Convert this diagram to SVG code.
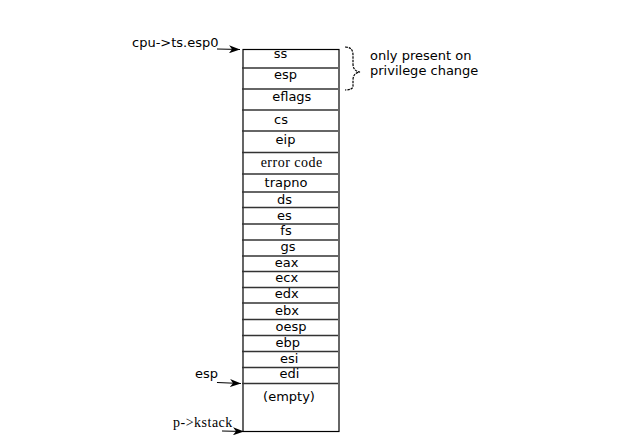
<svg xmlns="http://www.w3.org/2000/svg" width="630" height="435" viewBox="0 0 630 435">
<style>
.lbl{font-family:"DejaVu Sans",sans-serif;font-size:13px;fill:#000;text-anchor:middle}
.side{font-family:"DejaVu Sans",sans-serif;font-size:13px;fill:#000}
.serif{font-family:"Liberation Serif",serif;font-size:14px;letter-spacing:0.5px;fill:#000}
.sep{stroke:#333;stroke-width:1.3}
.arr{stroke:#000;stroke-width:1.2;fill:none}
</style>
<defs>
<marker id="ah" markerWidth="11" markerHeight="8" refX="11" refY="4" orient="auto" markerUnits="userSpaceOnUse">
<path d="M0,0 L11,4 L0,8 L3,4 Z" fill="#000"/>
</marker>
</defs>
<rect width="630" height="435" fill="#fff"/>
<g id="stack">
<rect x="243" y="49.5" width="96" height="382" fill="none" stroke="#000" stroke-width="1.2"/>
<g class="sep">
<line x1="242" y1="68" x2="338" y2="68"/>
<line x1="242" y1="89" x2="338" y2="89"/>
<line x1="242" y1="110" x2="338" y2="110"/>
<line x1="242" y1="131" x2="338" y2="131"/>
<line x1="242" y1="152.5" x2="338" y2="152.5"/>
<line x1="242" y1="174" x2="338" y2="174"/>
<line x1="242" y1="192" x2="338" y2="192"/>
<line x1="242" y1="207.5" x2="338" y2="207.5"/>
<line x1="242" y1="224" x2="338" y2="224"/>
<line x1="242" y1="240" x2="338" y2="240"/>
<line x1="242" y1="256" x2="338" y2="256"/>
<line x1="242" y1="271.5" x2="338" y2="271.5"/>
<line x1="242" y1="287.5" x2="338" y2="287.5"/>
<line x1="242" y1="303" x2="338" y2="303"/>
<line x1="242" y1="319.5" x2="338" y2="319.5"/>
<line x1="242" y1="335.5" x2="338" y2="335.5"/>
<line x1="242" y1="351.5" x2="338" y2="351.5"/>
<line x1="242" y1="367.5" x2="338" y2="367.5"/>
<line x1="242" y1="383.5" x2="338" y2="383.5"/>
</g>
</g>
<g id="cell-ss"><text class="lbl" x="280.5" y="57.5">ss</text></g>
<g id="cell-esp"><text class="lbl" x="285.5" y="78.5">esp</text></g>
<g id="cell-eflags"><text class="lbl" x="291.8" y="101">eflags</text></g>
<g id="cell-cs"><text class="lbl" x="281" y="124">cs</text></g>
<g id="cell-eip"><text class="lbl" x="285.5" y="143.5">eip</text></g>
<g id="cell-errorcode"><text class="serif" x="291.7" y="166.5" text-anchor="middle">error code</text></g>
<g id="cell-trapno"><text class="lbl" x="286" y="186.7">trapno</text></g>
<g id="cell-ds"><text class="lbl" x="284.5" y="204">ds</text></g>
<g id="cell-es"><text class="lbl" x="284.5" y="219.5">es</text></g>
<g id="cell-fs"><text class="lbl" x="286" y="235">fs</text></g>
<g id="cell-gs"><text class="lbl" x="288" y="251">gs</text></g>
<g id="cell-eax"><text class="lbl" x="286.7" y="266.7">eax</text></g>
<g id="cell-ecx"><text class="lbl" x="286.7" y="282.3">ecx</text></g>
<g id="cell-edx"><text class="lbl" x="286.7" y="298.3">edx</text></g>
<g id="cell-ebx"><text class="lbl" x="287" y="315">ebx</text></g>
<g id="cell-oesp"><text class="lbl" x="291" y="330.7">oesp</text></g>
<g id="cell-ebp"><text class="lbl" x="287.7" y="346.7">ebp</text></g>
<g id="cell-esi"><text class="lbl" x="289.3" y="362.7">esi</text></g>
<g id="cell-edi"><text class="lbl" x="289.5" y="378.3">edi</text></g>
<g id="cell-empty"><text class="lbl" x="289" y="401">(empty)</text></g>
<g id="label-esp0"><text class="side" x="132" y="47">cpu-&gt;ts.esp0</text></g>
<g id="label-esp"><text class="side" x="195" y="378">esp</text></g>
<g id="label-kstack"><text class="serif" x="173" y="427">p-&gt;kstack</text></g>
<g id="note"><text class="side" x="370" y="60">only present on</text><text class="side" x="370" y="75">privilege change</text></g>
<g id="connectors">
<line class="arr" x1="217" y1="49" x2="240" y2="49.5" marker-end="url(#ah)"/>
<line class="arr" x1="217" y1="382.5" x2="241" y2="383.5" marker-end="url(#ah)"/>
<line class="arr" x1="222" y1="431" x2="244" y2="431.5" marker-end="url(#ah)"/>
<path class="arr" stroke-dasharray="2.5,1" d="M345,47 Q353,47 353,55 L353,64 Q353,71 360,72 Q353,73 353,80 L353,86 Q353,90 345,90"/>
</g>
</svg>
